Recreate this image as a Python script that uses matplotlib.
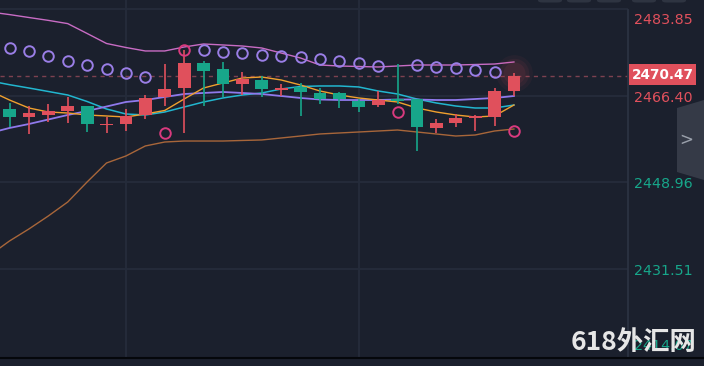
import numpy as np
import matplotlib.pyplot as plt
from matplotlib import transforms
from matplotlib.patches import Rectangle, FancyBboxPatch, Polygon

# candles (red = up, green = down)
opens = [2463.78, 2462.16, 2462.57, 2463.37, 2464.38, 2460.45, 2460.75, 2462.57, 2466.20,
         2468.01, 2473.06, 2471.85, 2468.82, 2469.63, 2467.61, 2468.22, 2467.01, 2467.01,
         2465.39, 2464.58, 2465.79, 2465.79, 2459.95, 2460.95, 2462.06, 2462.16, 2467.47]
closes = [2462.16, 2462.97, 2463.37, 2464.38, 2460.75, 2460.75, 2462.37, 2466.00, 2467.81,
          2473.06, 2471.44, 2468.82, 2469.83, 2467.81, 2468.01, 2467.21, 2465.79, 2465.79,
          2464.18, 2465.59, 2465.49, 2460.15, 2460.95, 2461.96, 2462.27, 2467.41, 2470.47]
highs = [2464.99, 2464.38, 2464.79, 2466.20, 2464.38, 2462.16, 2463.78, 2466.60, 2472.85,
         2475.68, 2473.46, 2473.26, 2471.24, 2470.43, 2468.82, 2469.02, 2468.01, 2467.21,
         2465.79, 2467.41, 2472.85, 2465.79, 2461.76, 2462.77, 2462.57, 2468.01, 2471.10]
lows = [2460.15, 2458.74, 2461.16, 2460.95, 2459.14, 2458.94, 2459.34, 2461.76, 2464.38,
        2458.94, 2464.38, 2466.20, 2466.60, 2466.20, 2466.40, 2462.37, 2464.79, 2463.98,
        2463.17, 2464.18, 2464.79, 2455.31, 2458.94, 2460.15, 2459.34, 2460.35, 2466.30]

# indicator lines, starting one bar before the first candle
boll_upper = [2483.34, 2482.82, 2482.23, 2481.65, 2481.00, 2479.01, 2476.99, 2476.18, 2475.48,
              2475.48, 2476.28, 2476.89, 2476.69, 2476.48, 2476.08, 2475.07, 2474.06, 2472.65,
              2472.45, 2472.35, 2472.25, 2472.45, 2472.65, 2472.65, 2472.65, 2472.75, 2472.85, 2473.26]
boll_lower = [2434.33, 2437.16, 2439.58, 2442.20, 2445.02, 2449.06, 2452.89, 2454.30, 2456.32,
              2457.12, 2457.32, 2457.32, 2457.32, 2457.43, 2457.53, 2457.93, 2458.33, 2458.74,
              2458.94, 2459.14, 2459.34, 2459.54, 2459.14, 2458.74, 2458.33, 2458.53, 2459.34, 2459.74]
ma_cyan = [2469.43, 2468.68, 2468.01, 2467.31, 2466.60, 2465.29, 2463.78, 2462.77, 2462.57,
           2463.17, 2464.18, 2465.19, 2466.00, 2466.60, 2467.01, 2467.81, 2468.32, 2468.42,
           2468.42, 2468.22, 2467.41, 2466.80, 2465.79, 2464.99, 2464.38, 2463.98, 2463.98, 2464.58]
ma_purple = [2458.94, 2459.95, 2460.75, 2461.66, 2462.57, 2463.37, 2464.28, 2465.19, 2465.59,
             2466.20, 2466.80, 2467.01, 2467.21, 2467.01, 2466.80, 2466.40, 2466.00, 2465.69,
             2465.59, 2465.59, 2465.59, 2465.69, 2465.69, 2465.59, 2465.59, 2465.79, 2466.00, 2466.40]
ma_orange = [2467.41, 2465.59, 2463.98, 2463.17, 2462.97, 2462.57, 2462.37, 2462.16, 2462.77,
             2463.48, 2465.79, 2468.01, 2469.02, 2470.03, 2470.23, 2469.63, 2468.62, 2467.41,
             2466.60, 2466.00, 2465.59, 2465.19, 2463.98, 2463.17, 2462.57, 2462.16, 2462.37, 2464.58]

# parabolic SAR, one per candle
sar = [2476.08, 2475.48, 2474.47, 2473.46, 2472.65, 2471.85, 2471.04, 2470.23, 2458.94,
       2475.68, 2475.68, 2475.27, 2475.07, 2474.67, 2474.47, 2474.27, 2473.86, 2473.46,
       2473.06, 2472.45, 2463.17, 2472.65, 2472.25, 2472.05, 2471.64, 2471.24, 2459.34]

last_price = 2470.47
price_ticks = [2483.85, 2466.40, 2448.96, 2431.51, 2414.07]
tick_up = [True, True, False, False, False]
time_grid = [6, 18]
watermark = '618外汇网'

BG = '#1b202d'
GRID = '#252c3b'
RED = '#e0505c'
GREEN = '#17a68a'

W, H = 704, 366
fig = plt.figure(figsize=(W / 100, H / 100), dpi=100, facecolor=BG)
ax = fig.add_axes([0, 9 / H, 628 / W, 357 / H])
ax.set_facecolor(BG)
for s in ax.spines.values():
    s.set_visible(False)
ax.set_xticks([])
ax.set_yticks([])
ax.set_xlim(-0.49, 31.88)
ax.set_ylim(2413.76, 2485.76)

for p in price_ticks[:4]:
    ax.axhline(p, color=GRID, lw=1.3, zorder=0)
for t in time_grid:
    ax.axvline(t, color=GRID, lw=1.3, zorder=0)

n = len(opens)
xc = np.arange(n)
xl = np.arange(-1, n)

ax.plot(xl, boll_upper, color='#c86cc4', lw=1.0, zorder=2)
ax.plot(xl, boll_lower, color='#a8663a', lw=1.0, zorder=2)
ax.plot(xl, ma_cyan, color='#22b6cf', lw=1.1, zorder=2)
ax.plot(xl, ma_purple, color='#8f79ec', lw=1.3, zorder=2)
ax.plot(xl, ma_orange, color='#f0a02e', lw=1.0, zorder=2)

ax.axhline(last_price, color='#7d4150', lw=1.0, ls=(0, (3, 3)), zorder=1)

# glow on the live candle
for sz, a in [(700, 0.05), (450, 0.07), (250, 0.09)]:
    ax.scatter([n - 1], [highs[-1]], s=sz, color='#e0505c', alpha=a, lw=0, zorder=2)

for i in range(n):
    up = closes[i] >= opens[i]
    c = RED if up else GREEN
    ax.vlines(i, lows[i], highs[i], color=c, lw=1.2, zorder=3)
    lo = min(opens[i], closes[i])
    h = max(abs(closes[i] - opens[i]), 0.3)
    ax.bar(i, h, bottom=lo, width=0.66, color=c, lw=0, zorder=4)

for i in range(n):
    c = '#9a7ee6' if sar[i] > highs[i] else '#d93a7e'
    ax.plot(i, sar[i], 'o', ms=7.6, mfc='none', mec=c, mew=1.4, zorder=5)

# right price scale
fig.add_artist(plt.Line2D([628 / W, 628 / W], [9 / H, 1 - 9.5 / H], color='#2b3242', lw=1.3))
fig.add_artist(plt.Line2D([0, 1], [1 - 357.5 / H, 1 - 357.5 / H], color='#05070b', lw=1.5))
tr = transforms.blended_transform_factory(ax.transAxes, ax.transData)
for k, (p, up) in enumerate(zip(price_ticks, tick_up)):
    va, dy = 'center', -2
    if k == 0:
        va, dy = 'top', -4
    elif k == len(price_ticks) - 1:
        va, dy = 'bottom', 2
    off = transforms.offset_copy(tr, fig=fig, x=0, y=dy, units='dots')
    ax.text(1.0096, p, f'{p:.2f}', transform=off, color=RED if up else GREEN,
            fontsize=10.3, va=va, ha='left', clip_on=False, zorder=1)

fig.add_artist(Rectangle((629 / W, 1 - 85 / H), 67 / W, 21 / H, transform=fig.transFigure,
                         facecolor=RED, edgecolor='none'))
fig.text(662.5 / W, 1 - 75 / H, f'{last_price:.2f}', color='white', fontsize=9.8,
         fontweight='bold', ha='center', va='center')

# side tab and toolbar buttons
fig.add_artist(Polygon([(677 / W, 1 - 108 / H), (704 / W, 1 - 100 / H), (704 / W, 1 - 180 / H),
                        (677 / W, 1 - 172 / H)], closed=True, transform=fig.transFigure,
                       facecolor='#353a47', edgecolor='none'))
fig.text(686 / W, 1 - 140 / H, '>', color='#9aa0ab', fontsize=12, ha='center', va='center')
for bx in [538, 567, 597, 632, 662]:
    fig.add_artist(FancyBboxPatch((bx / W, 1 - 2.5 / H), 24 / W, 8 / H,
                                  boxstyle='round,pad=0,rounding_size=0.006',
                                  transform=fig.transFigure, facecolor='#2e3441',
                                  edgecolor='none'))

fig.text(571 / W, 1 - 343 / H, watermark, color='#e6e6e6', fontsize=19, fontweight='bold',
         family=['Noto Sans CJK SC', 'DejaVu Sans'], ha='left', va='center')

fig.savefig('out.png', dpi=100, facecolor=BG)
